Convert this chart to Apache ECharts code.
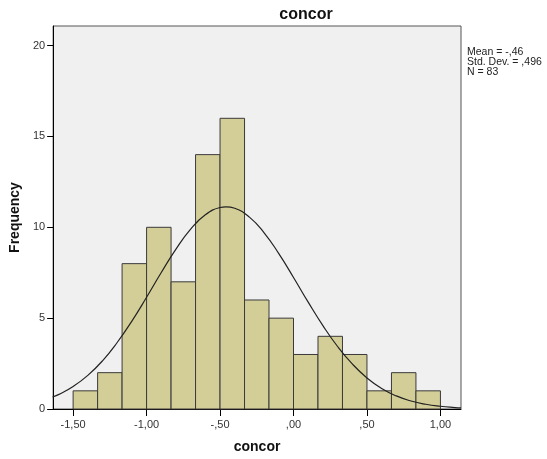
<!DOCTYPE html>
<html>
<head>
<meta charset="utf-8">
<script src="https://cdn.jsdelivr.net/npm/echarts@6/dist/echarts.min.js"></script>
<style>html,body{margin:0;padding:0;background:#fff}#c{width:547px;height:459px}</style>
</head>
<body>
<div id="c"></div>
<script>
// Histogram bins (lower edge, upper edge) and frequencies
const binLow  = [-1.5, -1.3333, -1.1667, -1.0, -0.8333, -0.6667, -0.5, -0.3333, -0.1667, 0.0, 0.1667, 0.3333, 0.5, 0.6667, 0.8333];
const binHigh = [-1.3333, -1.1667, -1.0, -0.8333, -0.6667, -0.5, -0.3333, -0.1667, 0.0, 0.1667, 0.3333, 0.5, 0.6667, 0.8333, 1.0];
const freq    = [1, 2, 8, 10, 7, 14, 16, 6, 5, 3, 4, 3, 1, 2, 1];
// Normal curve
const curveX = [-1.64, -1.6, -1.5, -1.4, -1.3, -1.2, -1.1, -1.0, -0.9, -0.8, -0.7, -0.6, -0.5, -0.46, -0.4, -0.3, -0.2, -0.1, 0.0, 0.1, 0.2, 0.3, 0.4, 0.5, 0.6, 0.7, 0.8, 0.9, 1.0, 1.1, 1.14];
const curveY = [0.66, 0.79, 1.24, 1.85, 2.65, 3.66, 4.84, 6.15, 7.51, 8.80, 9.90, 10.69, 11.09, 11.13, 11.05, 10.56, 9.70, 8.55, 7.24, 5.88, 4.59, 3.44, 2.48, 1.71, 1.13, 0.72, 0.44, 0.26, 0.15, 0.08, 0.06];
const xTicks = [-1.5, -1.0, -0.5, 0.0, 0.5, 1.0];
const xTickLabels = ['-1,50', '-1,00', '-,50', ',00', ',50', '1,00'];
const yTicks = [0, 5, 10, 15, 20];
const statLines = ['Mean = -,46', 'Std. Dev. = ,496', 'N = 83'];
const titleText = 'concor';
const xName = 'concor';
const yName = 'Frequency';

const chart = echarts.init(document.getElementById('c'), null, {renderer: 'canvas'});
const barData = freq.map((f, i) => [binLow[i], binHigh[i], f]);
const lineData = curveX.map((x, i) => [x, curveY[i]]);
const labelMap = {};
xTicks.forEach((t, i) => { labelMap[t.toFixed(2)] = xTickLabels[i]; });
const font = 'Arial, "Liberation Sans", sans-serif';

chart.setOption({
  backgroundColor: '#ffffff',
  animation: false,
  grid: {left: 53, top: 26, right: 86, bottom: 47, show: true, backgroundColor: '#F0F0F0', borderColor: '#555', borderWidth: 1},
  xAxis: {
    type: 'value', min: -1.636, max: 1.14,
    name: xName, nameLocation: 'middle', nameGap: 31,
    nameTextStyle: {fontFamily: font, fontWeight: 'bold', fontSize: 14, color: '#111'},
    axisLine: {show: true, onZero: false, lineStyle: {color: '#000', width: 1}},
    axisTick: {show: true, customValues: xTicks, length: 7, lineStyle: {color: '#000'}},
    axisLabel: {customValues: xTicks, margin: 10, fontFamily: font, fontSize: 11, color: '#333',
      formatter: v => labelMap[Number(v).toFixed(2)] || ''},
    splitLine: {show: false}
  },
  yAxis: {
    type: 'value', min: 0, max: 21.08,
    name: yName, nameLocation: 'middle', nameGap: 24, nameRotate: 90,
    nameTextStyle: {fontFamily: font, fontWeight: 'bold', fontSize: 14, color: '#111'},
    axisLine: {show: true, onZero: false, lineStyle: {color: '#000', width: 1}},
    axisTick: {show: true, customValues: yTicks, length: 6, lineStyle: {color: '#000'}},
    axisLabel: {customValues: yTicks, margin: 8, fontFamily: font, fontSize: 11, color: '#333'},
    splitLine: {show: false}
  },
  graphic: [
    {type: 'text', x: 306, y: 15, style: {text: titleText, font: 'bold 16px ' + font, fill: '#111', align: 'center', verticalAlign: 'middle'}},
    ...statLines.map((t, i) => ({type: 'text', x: 467, y: 52 + i * 10, style: {text: t, font: '10.5px ' + font, fill: '#222', verticalAlign: 'middle'}}))
  ],
  series: [
    {
      type: 'custom',
      data: barData,
      encode: {x: [0, 1], y: 2},
      renderItem: function (params, api) {
        const p0 = api.coord([api.value(0), api.value(2)]);
        const p1 = api.coord([api.value(1), 0]);
        return {type: 'rect', shape: {x: p0[0], y: p0[1], width: p1[0] - p0[0], height: p1[1] - p0[1]},
          style: {fill: '#D3CE98', stroke: '#3a3a3a', lineWidth: 1}};
      },
      z: 2
    },
    {
      type: 'line', data: lineData, smooth: true, showSymbol: false, symbol: 'none',
      lineStyle: {color: '#222', width: 1.2}, z: 3, clip: true
    }
  ]
});
</script>
</body>
</html>
